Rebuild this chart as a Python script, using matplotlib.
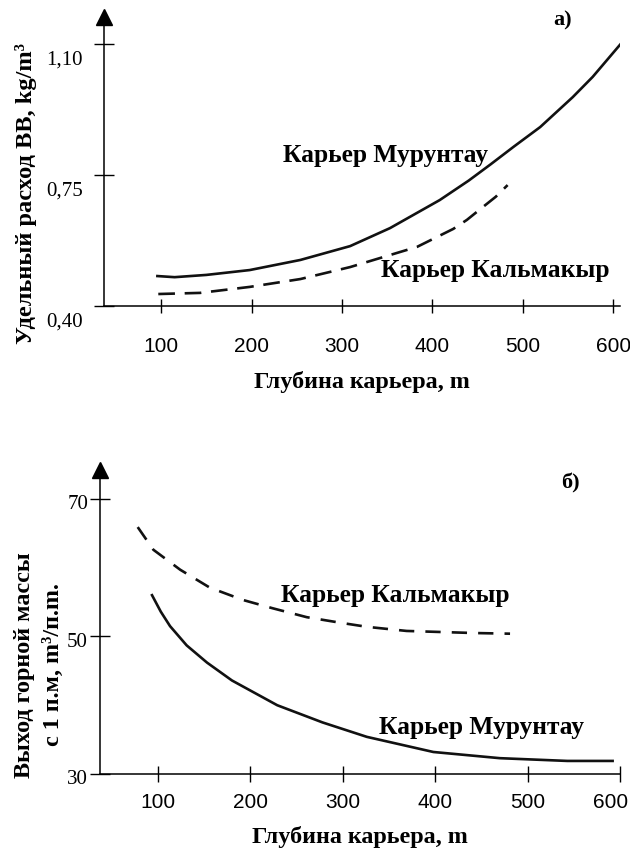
import matplotlib
matplotlib.use("Agg")
import matplotlib.pyplot as plt
from matplotlib.transforms import ScaledTranslation

plt.rcParams['lines.scale_dashes'] = False

SERIF = ['Liberation Serif', 'DejaVu Serif']
SANS = ['Liberation Sans', 'DejaVu Sans']

# ---- data: panel a) specific explosive consumption ----
depth_a_mur = [96, 115, 150, 198, 254, 309, 353, 408, 440, 464, 490, 519, 555, 577, 609]
cons_a_mur = [0.480, 0.477, 0.483, 0.496, 0.523, 0.560, 0.608, 0.683, 0.735, 0.778,
              0.826, 0.878, 0.958, 1.012, 1.103]
depth_a_kal = [97, 143, 198, 254, 309, 383, 423, 438, 456, 470, 483]
cons_a_kal = [0.432, 0.435, 0.451, 0.472, 0.504, 0.558, 0.606, 0.630, 0.665, 0.692, 0.723]
yticks_a = [0.40, 0.75, 1.10]
yticklabels_a = ['0,40', '0,75', '1,10']

# ---- data: panel б) rock yield per metre ----
depth_b_kal = [78, 95, 124, 156, 192, 224, 261, 297, 326, 369, 441, 481]
yield_b_kal = [65.9, 62.6, 59.7, 57.1, 55.3, 54.1, 52.8, 52.0, 51.4, 50.8, 50.5, 50.4]
depth_b_mur = [93.5, 103, 113, 131, 153, 180, 229, 278, 326, 398, 470, 543, 592]
yield_b_mur = [56.0, 53.6, 51.5, 48.7, 46.2, 43.6, 40.0, 37.5, 35.4, 33.2, 32.3, 31.9, 31.9]
yticks_b = [30, 50, 70]
yticklabels_b = ['30', '50', '70']

xticks = [100, 200, 300, 400, 500, 600]
xticklabels = ['100', '200', '300', '400', '500', '600']

W, H = 630, 849
fig = plt.figure(figsize=(W / 100, H / 100), dpi=100)
LBL = 18.4


def style_axes(ax, xlim, ylim, yticks, ylabels, ytick_len, xtick_len, xpad, ylab_off):
    ax.set_xlim(*xlim)
    ax.set_ylim(*ylim)
    for s in ['top', 'right']:
        ax.spines[s].set_visible(False)
    for s in ['left', 'bottom']:
        ax.spines[s].set_linewidth(1.1)
    ax.set_xticks(xticks)
    ax.set_xticklabels(xticklabels, fontfamily=SANS, fontsize=15)
    ax.tick_params(axis='x', direction='inout', length=xtick_len, width=1.0, pad=xpad)
    ax.set_yticks(yticks)
    ax.tick_params(axis='y', direction='inout', length=ytick_len, width=1.0,
                   labelleft=False)
    for v, t in zip(yticks, ylabels):
        ax.annotate(t, xy=(0, v), xycoords=ax.get_yaxis_transform(),
                    xytext=ylab_off, textcoords='offset points',
                    ha='right', va='center', fontfamily=SERIF, fontsize=15,
                    annotation_clip=False)
    # arrow head at top of y-axis
    ax.plot([0], [1], marker='^', markersize=12, color='black',
            transform=ax.transAxes, clip_on=False)


# ---------------- panel a ----------------
ax1 = fig.add_axes([104 / W, 1 - 306 / H, 516 / W, (306 - 17) / H])
ax1.plot(depth_a_mur, cons_a_mur, color='#111111', lw=1.9)
ax1.plot(depth_a_kal, cons_a_kal, color='#111111', lw=1.9, dashes=(12, 7))
style_axes(ax1, (37.0, 607.2), (0.40, 1.172), yticks_a, yticklabels_a,
           15, 10, 17, (-15, -11.5))
ax1.set_xlabel('Глубина карьера, m', fontfamily=SERIF, fontweight='bold',
               fontsize=17.4, labelpad=11)
ax1.text(348.6, 0.803, 'Карьер Мурунтау', fontfamily=SERIF, fontweight='bold',
         fontsize=LBL, ha='center', va='center')
ax1.text(469, 0.4935, 'Карьер Кальмакыр', fontfamily=SERIF, fontweight='bold',
         fontsize=LBL, ha='center', va='center')
fig.text(563 / W, 1 - 20 / H, 'а)', fontfamily=SERIF, fontweight='bold',
         fontsize=16, ha='center', va='center')
fig.text(26 / W, 1 - 193 / H, 'Удельный расход ВВ, kg/m³', fontfamily=SERIF,
         fontweight='bold', fontsize=17.6, rotation=90, ha='center', va='center')

# ---------------- panel б ----------------
ax2 = fig.add_axes([100 / W, 1 - 774 / H, 520 / W, (774 - 470) / H])
ax2.plot(depth_b_mur, yield_b_mur, color='#111111', lw=1.9)
ax2.plot(depth_b_kal, yield_b_kal, color='#111111', lw=1.9, dashes=(11, 8))
style_axes(ax2, (37.2, 600.0), (30, 74.2), yticks_b, yticklabels_b,
           14, 11.5, 8, (-8.6, -4.3))
ax2.set_xlabel('Глубина карьера, m', fontfamily=SERIF, fontweight='bold',
               fontsize=17.4, labelpad=10)
ax2.text(356.5, 55.9, 'Карьер Кальмакыр', fontfamily=SERIF, fontweight='bold',
         fontsize=LBL, ha='center', va='center')
ax2.text(449.6, 36.8, 'Карьер Мурунтау', fontfamily=SERIF, fontweight='bold',
         fontsize=LBL, ha='center', va='center')
fig.text(570 / W, 1 - 483 / H, 'б)', fontfamily=SERIF, fontweight='bold',
         fontsize=16, ha='center', va='center')
fig.text(39 / W, 1 - 665 / H, 'Выход горной массы\nс 1 п.м, m³/п.m.',
         fontfamily=SERIF, fontweight='bold', fontsize=17.4, rotation=90,
         ha='center', va='center', multialignment='center', linespacing=1.45)

# the last bottom tick label sits slightly left of its tick, as in the original
last = ax2.get_xticklabels()[-1]
last.set_transform(last.get_transform() + ScaledTranslation(-9 / 100, 0, fig.dpi_scale_trans))

fig.savefig('out.png', dpi=100)
